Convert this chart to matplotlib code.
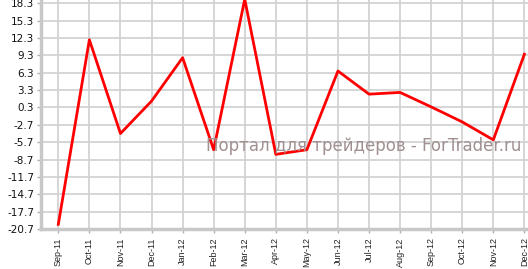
import matplotlib
matplotlib.use("Agg")
import matplotlib.pyplot as plt
import numpy as np

months = ["Sep-11", "Oct-11", "Nov-11", "Dec-11", "Jan-12", "Feb-12", "Mar-12", "Apr-12",
          "May-12", "Jun-12", "Jul-12", "Aug-12", "Sep-12", "Oct-12", "Nov-12", "Dec-12"]
values = [-19.9, 12.0, -4.2, 1.4, 8.9, -7.0, 19.0, -7.8,
          -7.0, 6.6, 2.6, 2.9, 0.4, -2.2, -5.3, 9.5]
yticks = [18.3, 15.3, 12.3, 9.3, 6.3, 3.3, 0.3, -2.7, -5.7, -8.7, -11.7, -14.7, -17.7, -20.7]
ytick_labels = ["18.3", "15.3", "12.3", "9.3", "6.3", "3.3", "0.3", "-2.7", "-5.7", "-8.7",
                "-11.7", "-14.7", "-17.7", "-20.7"]
watermark = "Портал для трейдеров - ForTrader.ru"

fig = plt.figure(figsize=(5.28, 2.69), dpi=100)
ax = fig.add_axes([41/528, 1 - 229/269, 1 - 41/528, 229/269])
x = np.arange(len(months))
ax.plot(x, values, color="#ff0000", lw=2.0, zorder=3, clip_on=True)

ax.set_xlim(-0.557, len(months) - 1 + 0.116)
ax.set_ylim(-20.7, 18.87)
ax.set_xticks(x)
ax.set_xticklabels(months, rotation=90, fontsize=6.5, family="Liberation Sans", color="#222222")
ax.set_yticks(yticks)
ax.set_yticklabels(ytick_labels, fontsize=7.5, family="DejaVu Sans", color="#111111")
ax.grid(True, color="#d0d0d0", lw=1.2, zorder=0)
for s in ["top", "right"]:
    ax.spines[s].set_visible(False)
for s in ["left", "bottom"]:
    ax.spines[s].set_color("#c8c8c8")
    ax.spines[s].set_linewidth(2.5)
ax.tick_params(axis="both", colors="#b0b0b0", length=3, width=1)
ax.tick_params(axis="x", labelcolor="#222222", pad=3)
ax.tick_params(axis="y", labelcolor="#111111", pad=2)

fig.text(521/528, 1 - 146/269, watermark, ha="right", va="center", fontsize=12,
         color="#a09090", family="DejaVu Sans", zorder=5)

fig.savefig("out.png", dpi=100)
